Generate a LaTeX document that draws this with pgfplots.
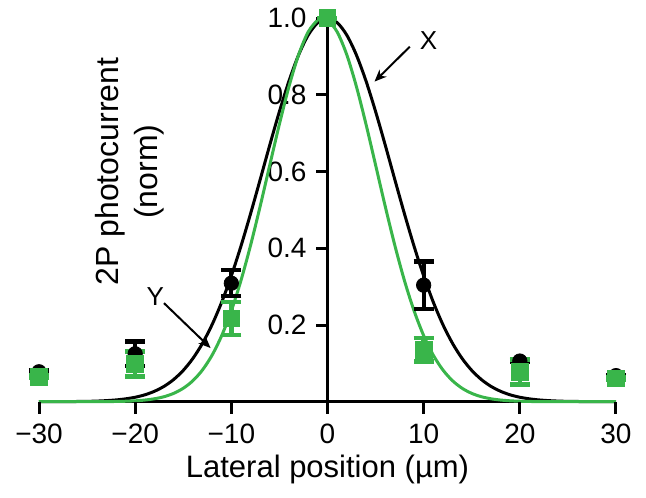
\documentclass[border=0pt]{standalone}
\usepackage{fontspec}
\setmainfont{Liberation Sans}
\usepackage{pgfplots}
\pgfplotsset{compat=1.18}
\usetikzlibrary{arrows.meta}
\definecolor{pgreen}{RGB}{57,181,74}

\begin{document}
\begin{tikzpicture}
\useasboundingbox (0,0) rectangle (323pt,248.5pt);
\begin{axis}[
    at={(19.5pt,47.65pt)}, anchor=south west,
    scale only axis, width=288.5pt, height=191.7pt,
    xmin=-30, xmax=30, ymin=0, ymax=1,
    clip=false,
    axis x line=bottom, axis y line=center,
    axis line style={-, line width=1.6pt},
    tick align=outside,
    major tick length=5.5pt,
    tick style={line width=1.5pt, black},
    xtick={-30,-20,-10,0,10,20,30},
    xticklabels={−30,−20,−10,0,10,20,30},
    ytick={0.2,0.4,0.6,0.8,1.0},
    yticklabels={0.2,0.4,0.6,0.8,1.0},
    tick label style={font=\fontsize{14}{16}\selectfont},
    xticklabel style={yshift=-2pt},
    yticklabel style={xshift=-1.5pt},
    xlabel={Lateral position (µm)},
    xlabel style={font=\fontsize{15.5}{18}\selectfont, yshift=1pt},
]
% fitted curves
\addplot[black, line width=1.5pt, smooth] coordinates {
    (-30,0) (-27,0.0003) (-25,0.0009) (-24,0.0016) (-23,0.0028) (-22,0.0046)
    (-21,0.0074) (-20,0.0116) (-19,0.0179) (-18,0.0271) (-17,0.0400) (-16,0.0578)
    (-15,0.0816) (-14,0.1127) (-13,0.1522) (-12,0.2011) (-11,0.2598) (-10,0.3283)
    (-9,0.4057) (-8,0.4903) (-7,0.5794) (-6,0.6697) (-5,0.7569) (-4,0.8368)
    (-3,0.9046) (-2,0.9564) (-1,0.9889) (0,1.0) (1,0.9889) (2,0.9564) (3,0.9046)
    (4,0.8368) (5,0.7569) (6,0.6697) (7,0.5794) (8,0.4903) (9,0.4057) (10,0.3283)
    (11,0.2598) (12,0.2011) (13,0.1522) (14,0.1127) (15,0.0816) (16,0.0578)
    (17,0.0400) (18,0.0271) (19,0.0179) (20,0.0116) (21,0.0074) (22,0.0046)
    (23,0.0028) (24,0.0016) (25,0.0009) (27,0.0003) (30,0)
};
\addplot[pgreen, line width=1.5pt, smooth] coordinates {
    (-30,0) (-25,0.0001) (-23,0.0003) (-22,0.0006) (-21,0.0012) (-20,0.0023)
    (-19,0.0043) (-18,0.0076) (-17,0.0130) (-16,0.0217) (-15,0.0350) (-14,0.0547)
    (-13,0.0828) (-12,0.1214) (-11,0.1724) (-10,0.2372) (-9,0.3160) (-8,0.4079)
    (-7,0.5099) (-6,0.6174) (-5,0.7241) (-4,0.8226) (-3,0.9052) (-2,0.9648)
    (-1,0.9960) (-0.5,1.0) (0,0.9960) (1,0.9648) (2,0.9052) (3,0.8226) (4,0.7241)
    (5,0.6174) (6,0.5099) (7,0.4079) (8,0.3160) (9,0.2372) (10,0.1724)
    (11,0.1214) (12,0.0828) (13,0.0547) (14,0.0350) (15,0.0217) (16,0.0130)
    (17,0.0076) (18,0.0043) (19,0.0023) (20,0.0012) (21,0.0006) (22,0.0003)
    (24,0.0001) (30,0)
};
% tick marks on the axis lines
\pgfplotsinvokeforeach{0.2,0.4,0.6,0.8,1.0}{
    \draw[line width=1.5pt] (axis cs:0,#1) -- ([xshift=-5.5pt]axis cs:0,#1);
}
\pgfplotsinvokeforeach{-30,-20,-10,0,10,20,30}{
    \draw[line width=1.5pt] (axis cs:#1,0) -- ([yshift=-6pt]axis cs:#1,0);
}
% X data
\addplot[black, only marks, mark=*, mark size=3.6pt,
    error bars/.cd, y dir=both, y explicit,
    error bar style={line width=2pt, black},
    error mark options={rotate=90, line width=2.2pt, mark size=5pt, black}]
coordinates {
    (-30,0.078) +- (0,0.003)
    (-20,0.125) +- (0,0.032)
    (-10,0.309) +- (0,0.034)
    (0,1.0) +- (0,0)
    (10,0.304) +- (0,0.062)
    (20,0.106) +- (0,0.003)
    (30,0.068) +- (0,0.002)
};
% Y data
\addplot[pgreen, only marks, mark=square*, mark size=4.2pt,
    error bars/.cd, y dir=both, y explicit,
    error bar style={line width=2.2pt, pgreen},
    error mark options={rotate=90, line width=2.4pt, mark size=5pt, pgreen}]
coordinates {
    (-30,0.065) +- (0,0.003)
    (-20,0.098) +- (0,0.032)
    (-10,0.217) +- (0,0.043)
    (0,1.0) +- (0,0)
    (10,0.135) +- (0,0.031)
    (20,0.077) +- (0,0.033)
    (30,0.061) +- (0,0.003)
};
% labels and arrows
\node[rotate=90, align=center, font=\fontsize{16}{19.5}\selectfont]
    at (axis cs:-20.6,0.60) {2P photocurrent\\(norm)};
\draw[-{Stealth[length=6pt,width=5pt]}, line width=1pt]
    (axis cs:-17,0.257) -- (axis cs:-12.16,0.14);
\node[font=\fontsize{13}{15}\selectfont] at (axis cs:-17.9,0.273) {Y};
\draw[-{Stealth[length=6pt,width=5pt]}, line width=1pt]
    (axis cs:8.56,0.926) -- (axis cs:4.89,0.835);
\node[font=\fontsize{13}{15}\selectfont] at (axis cs:10.5,0.943) {X};
\end{axis}
\end{tikzpicture}
\end{document}
